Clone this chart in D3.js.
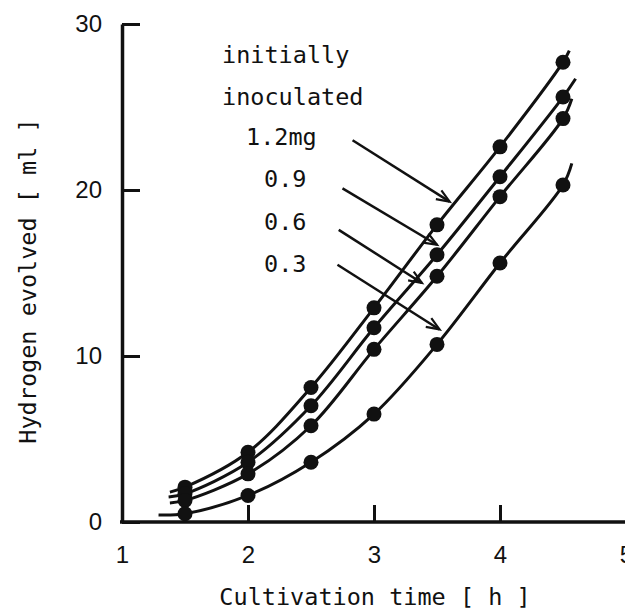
<!DOCTYPE html>
<html>
<head>
<meta charset="utf-8">
<script src="https://cdn.jsdelivr.net/npm/d3@7"></script>
<style>
  html, body { margin: 0; padding: 0; background: #fff; }
  svg { display: block; }
</style>
</head>
<body>
<svg id="chart" width="625" height="614"></svg>
<script>
// ---- data ----
const times = [1.5, 2, 2.5, 3, 3.5, 4, 4.5];               // Cultivation time [h]
const seriesNames = ["1.2mg", "0.9", "0.6", "0.3"];
const h2_12 = [2.1, 4.2, 8.1, 12.9, 17.9, 22.6, 27.7];     // Hydrogen evolved [ml]
const h2_09 = [1.7, 3.6, 7.0, 11.7, 16.1, 20.8, 25.6];
const h2_06 = [1.3, 2.9, 5.8, 10.4, 14.8, 19.6, 24.3];
const h2_03 = [0.5, 1.6, 3.6, 6.5, 10.7, 15.6, 20.3];
// where each fitted curve begins and ends
const curveStart = [[1.38, 1.8], [1.37, 1.5], [1.38, 1.15], [1.29, 0.42]];
const curveEnd   = [[4.55, 28.4], [4.60, 26.7], [4.57, 25.5], [4.57, 21.6]];
const xTicks = [1, 2, 3, 4, 5];
const yTicks = [0, 10, 20, 30];
const xTitle = "Cultivation time [ h ]";
const yTitle = "Hydrogen evolved [ ml ]";
const legendTitle = ["initially", "inoculated"];
// arrows from each label to its curve: [x0, y0, x1, y1] in data units
const arrowStart = [[2.83, 23.0], [2.75, 20.1], [2.72, 17.6], [2.71, 15.5]];
const arrowEnd   = [[3.60, 19.3], [3.50, 16.7], [3.38, 14.4], [3.52, 11.6]];

const seriesValues = [h2_12, h2_09, h2_06, h2_03];

// ---- layout ----
const svg = d3.select("#chart");
const x = d3.scaleLinear().domain([1, 5]).range([122, 626]);
const y = d3.scaleLinear().domain([0, 30]).range([522, 24]);

const ink = "#111";
const monoFont = "'DejaVu Sans Mono', 'Liberation Mono', monospace";
const sansFont = "'Liberation Sans', Arial, sans-serif";

// ---- axes ----
const xAxis = svg.append("g")
  .attr("transform", `translate(0,${y(0)})`)
  .call(d3.axisBottom(x).tickValues(xTicks).tickSize(-17).tickSizeOuter(0).tickPadding(24).tickFormat(d3.format("d")));
const yAxis = svg.append("g")
  .attr("transform", `translate(${x(1)},0)`)
  .call(d3.axisLeft(y).tickValues(yTicks).tickSize(-18).tickSizeOuter(0).tickPadding(20).tickFormat(d3.format("d")));

[xAxis, yAxis].forEach(g => {
  g.select(".domain").attr("stroke", ink).attr("stroke-width", 3.5);
  g.selectAll(".tick line").attr("stroke", ink).attr("stroke-width", 3);
  g.selectAll(".tick text").attr("fill", ink).style("font-family", sansFont).style("font-size", "24px");
});
// extend x axis to the right edge
xAxis.select(".domain").attr("d", `M${x(1) - 2},0H625`);

// ---- axis titles ----
svg.append("text")
  .attr("x", 375).attr("y", 605)
  .attr("text-anchor", "middle")
  .style("font-family", monoFont).style("font-size", "23.5px").attr("fill", ink)
  .text(xTitle);
svg.append("text")
  .attr("transform", `translate(36,281) rotate(-90)`)
  .attr("text-anchor", "middle")
  .style("font-family", monoFont).style("font-size", "23.5px").attr("fill", ink)
  .text(yTitle);

// ---- curves ----
const line = d3.line().x(d => x(d[0])).y(d => y(d[1])).curve(d3.curveCatmullRom.alpha(0.5));
seriesValues.forEach((vals, i) => {
  const pts = [curveStart[i], ...times.map((t, j) => [t, vals[j]]), curveEnd[i]];
  svg.append("path")
    .attr("d", line(pts))
    .attr("fill", "none").attr("stroke", ink).attr("stroke-width", 3);
});
seriesValues.forEach((vals) => {
  svg.append("g").selectAll("circle")
    .data(times.map((t, j) => [t, vals[j]]))
    .join("circle")
    .attr("cx", d => x(d[0])).attr("cy", d => y(d[1]))
    .attr("r", 7.5).attr("fill", ink);
});

// ---- legend text ----
const legend = svg.append("g").style("font-family", monoFont).style("font-size", "23.5px").attr("fill", ink);
legend.append("text").attr("x", 222).attr("y", 63).text(legendTitle[0]);
legend.append("text").attr("x", 222).attr("y", 105).text(legendTitle[1]);
const labelX = [246, 264, 264, 264];
const labelY = [145, 187, 230, 272];
seriesNames.forEach((n, i) => {
  legend.append("text").attr("x", labelX[i]).attr("y", labelY[i]).text(n);
});

// ---- arrows ----
seriesNames.forEach((n, i) => {
  const x0 = x(arrowStart[i][0]), y0 = y(arrowStart[i][1]);
  const x1 = x(arrowEnd[i][0]), y1 = y(arrowEnd[i][1]);
  svg.append("line").attr("x1", x0).attr("y1", y0).attr("x2", x1).attr("y2", y1)
    .attr("stroke", ink).attr("stroke-width", 2.5);
  const ang = Math.atan2(y1 - y0, x1 - x0);
  const L = 14, spread = 0.38;
  const p1 = [x1 - L * Math.cos(ang - spread), y1 - L * Math.sin(ang - spread)];
  const p2 = [x1 - L * Math.cos(ang + spread), y1 - L * Math.sin(ang + spread)];
  svg.append("path")
    .attr("d", `M${p1[0]},${p1[1]}L${x1},${y1}L${p2[0]},${p2[1]}`)
    .attr("fill", "none").attr("stroke", ink).attr("stroke-width", 2.2);
});
</script>
</body>
</html>
